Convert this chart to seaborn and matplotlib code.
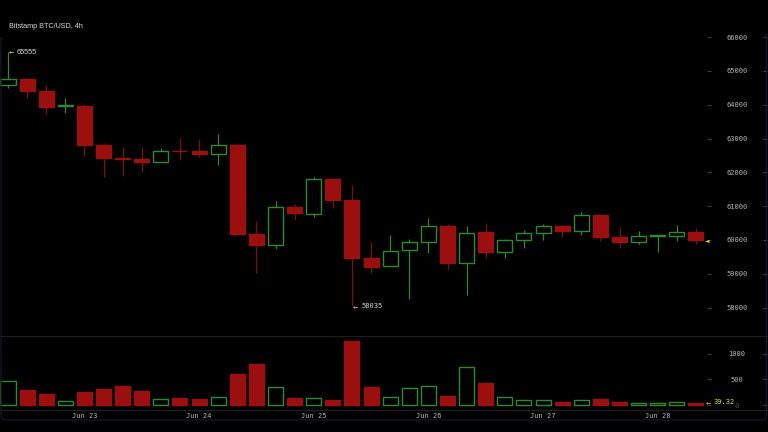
import numpy as np
import pandas as pd
import matplotlib
matplotlib.use("Agg")
import matplotlib.pyplot as plt
from matplotlib.lines import Line2D
from matplotlib.path import Path
from matplotlib.patches import PathPatch
import seaborn as sns

opens = [64586,64772,64408,63960,63973,62810,62417,62388,62299,62642,62633,62553,62811,60169,59843,60967,60778,61796,61175,59467,59222,59713,59941,60405,59320,60228,59636,60009,60207,60423,60257,60731,60080,59941,60120,60127,60228]
closes = [64754,64408,63944,63990,62802,62435,62396,62317,62633,62624,62553,62820,60178,59861,60967,60790,61796,61175,59467,59201,59683,59950,60405,59320,60207,59654,60000,60198,60423,60266,60731,60080,59941,60109,60135,60228,59991]
highs = [65555,64790,64577,64192,64015,62861,62760,62751,62713,63018,62988,63127,62879,60562,61154,61065,61864,61814,61627,59950,60139,60021,60642,60464,60405,60503,60030,60296,60464,60430,60828,60749,60376,60257,60150,60444,60355]
lows = [64506,64210,63737,63748,62494,61873,61885,62021,62299,62376,62447,62219,60178,59033,59743,60601,60689,60956,58035,59030,59222,58246,59624,59151,58382,59467,59476,59772,60009,60098,60157,59970,59754,59891,59654,59970,59891]
volumes = [468,292,208,85,253,305,377,266,110,143,117,156,611,799,357,143,143,97,1241,351,156,331,364,175,734,429,156,97,91,58,97,110,58,39,39,52,39.32]
price_ticks = [58000,59000,60000,61000,62000,63000,64000,65000,66000]
volume_ticks = [0,500,1000]
date_positions = [4,10,16,22,28,34]
date_labels = ["Jun 23","Jun 24","Jun 25","Jun 26","Jun 27","Jun 28"]
title_text = "Bitstamp BTC/USD, 4h"

W, H = 768, 432
BG = "#000000"; RED = "#9c0f0f"; RED_W = "#7a1010"; GREEN = "#2f8a2f"; GREY = "#b4b4b4"; YEL = "#e6e600"; LINE = "#1e2028"
PAD = 0.72

sns.set_theme(style="dark", rc={"axes.grid": False, "figure.facecolor": BG, "axes.facecolor": BG, "savefig.facecolor": BG})
fig = plt.figure(figsize=(W/100, H/100), dpi=100, facecolor=BG)

def box(x0, y0, x1, y1):
    return [x0/W, 1-y1/H, (x1-x0)/W, (y1-y0)/H]

STEP = 19.11; X0 = 8.0
xlim_for = lambda right: (-X0/STEP, (right-X0)/STEP)
PRICE_PX = 0.0338; VOL_PX = 0.0513

df = pd.DataFrame({"i": np.arange(len(opens)), "o": opens, "c": closes, "h": highs, "l": lows, "v": volumes})
df["up"] = df.c >= df.o
df["bottom"] = df[["o", "c"]].min(axis=1)
df["size"] = (df.o - df.c).abs()

ax = fig.add_axes(box(0, 0, 707, 336))
vx = fig.add_axes(box(0, 336, 707, 409.5))

ax.vlines(df.i[df.up], df.l[df.up], df.h[df.up], color=GREEN, lw=0.9, zorder=0.5)
ax.vlines(df.i[~df.up], df.l[~df.up], df.h[~df.up], color=RED_W, lw=0.9, zorder=0.5)

for flag, face, edge in [(True, BG, GREEN), (False, RED, RED)]:
    s = df[df.up == flag]
    sns.barplot(data=s, x="i", y="size", bottom=s["bottom"].values, native_scale=True, errorbar=None,
                color=face, saturation=1, width=0.785, edgecolor=edge, linewidth=1.0, ax=ax)
    sns.barplot(data=s, x="i", y="v", native_scale=True, errorbar=None,
                color=face, saturation=1, width=0.785, edgecolor=edge, linewidth=1.0, ax=vx)

ax.set_xlim(*xlim_for(707))
ax.set_ylim(60000 - (336-240)/PRICE_PX, 60000 + 240/PRICE_PX)
vx.set_xlim(*xlim_for(707))
vx.set_ylim(-(409.5-405)/VOL_PX, (405-336)/VOL_PX)

for a in (ax, vx):
    for sp in a.spines.values():
        sp.set_visible(False)
    a.set_xlabel(""); a.set_ylabel("")
    a.set_facecolor(BG)

TICKC = "#444444"
def style_y(a, ticks):
    a.yaxis.tick_right()
    a.set_yticks(ticks)
    a.set_yticklabels([str(t) for t in ticks], family="DejaVu Sans Mono", fontsize=5.0, color=GREY, ha="center")
    a.tick_params(axis="y", which="major", right=True, left=False, direction="out", length=4*PAD, width=0.7,
                  color=TICKC, pad=26*PAD)

style_y(ax, price_ticks)
style_y(vx, volume_ticks)
vx.get_yticklabels()[0].set_color("#555555")
ax.set_xticks([])
vx.set_xticks(date_positions)
vx.set_xticklabels(date_labels, family="DejaVu Sans Mono", fontsize=5.0, color=GREY)
vx.tick_params(axis="x", bottom=True, direction="out", length=2*PAD, width=0.6, color="#333333", pad=1.2)

# right-hand tick stubs
for a, ticks in ((ax, price_ticks), (vx, volume_ticks)):
    pos = a.get_position()
    b = fig.add_axes([pos.x0, pos.y0, 767/W, pos.height], facecolor="none", zorder=-1)
    b.set_ylim(a.get_ylim()); b.set_xticks([])
    for sp in b.spines.values():
        sp.set_visible(False)
    b.yaxis.tick_right(); b.set_yticks(ticks); b.set_yticklabels([])
    b.tick_params(axis="y", right=True, left=False, direction="in", length=4*PAD, width=0.7, color=TICKC)

def fx(px): return px/W
def fy(px): return 1-px/H

# panel lines and frame
for y in (336, 409.5):
    fig.add_artist(Line2D([fx(1), fx(767)], [fy(y), fy(y)], color=LINE, lw=0.8))
r = 5
verts = [(1, 37), (1, 420-r), (1, 420), (1+r, 420), (766.5-r, 420), (766.5, 420), (766.5, 420-r), (766.5, 33)]
codes = [Path.MOVETO, Path.LINETO, Path.CURVE3, Path.CURVE3, Path.LINETO, Path.CURVE3, Path.CURVE3, Path.LINETO]
fig.add_artist(PathPatch(Path([(fx(x), fy(y)) for x, y in verts], codes), fc="none", ec="#171a26", lw=0.9,
                         transform=fig.transFigure))

# annotations
T = dict(family="Liberation Sans", va="center", transform=fig.transFigure)
fig.text(fx(9), fy(26.5), title_text, fontsize=5.2, color="#d8d8d8", **T)
fig.text(fx(9), fy(52), "←", fontsize=4.6, color="#d8d8d8", family="DejaVu Sans", va="center")
fig.text(fx(17), fy(52), "65555", fontsize=5.2, color="#d8d8d8", **T)
fig.text(fx(353), fy(306.5), "←", fontsize=4.6, color="#d8d8d8", family="DejaVu Sans", va="center")
fig.text(fx(361), fy(306.5), "58035", fontsize=5.0, color="#d8d8d8", family="DejaVu Sans Mono", va="center")
fig.text(fx(705), fy(240.5), "◄", fontsize=4.2, color=YEL, family="DejaVu Sans", va="center")
fig.text(fx(706), fy(402.5), "←", fontsize=4.6, color=YEL, family="DejaVu Sans", va="center")
fig.text(fx(714), fy(402.5), f"{volumes[-1]:.2f}", fontsize=5.0, color=YEL, family="DejaVu Sans Mono", va="center",
         bbox=dict(fc=BG, ec="none", pad=0.4), zorder=10)

fig.savefig("out.png", dpi=100, facecolor=BG)
